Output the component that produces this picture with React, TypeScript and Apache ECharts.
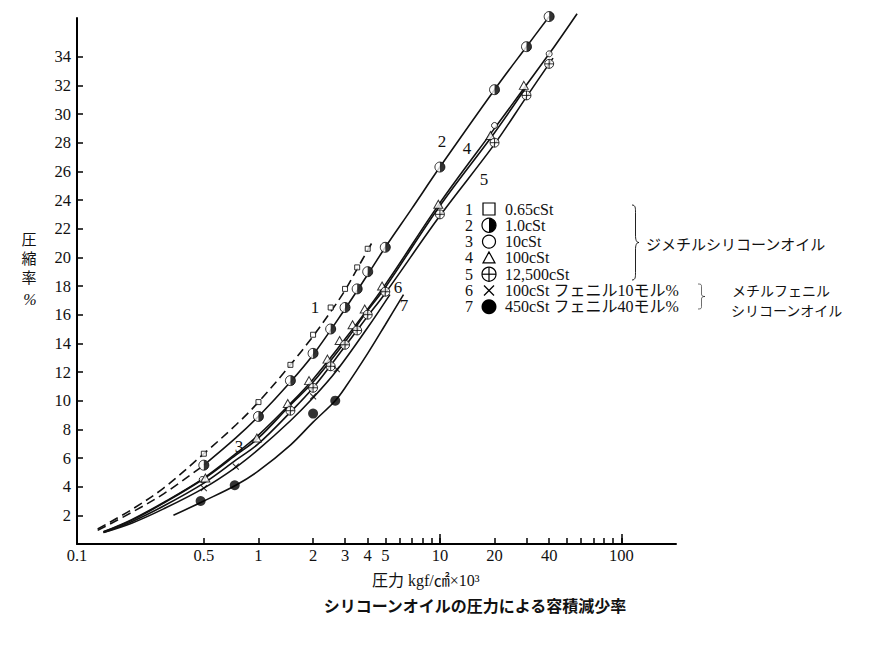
import React, { useEffect, useRef } from 'react';
import * as echarts from 'echarts';

const SERIF = '"Liberation Serif", "DejaVu Serif", "Noto Sans CJK JP", serif';
const CJK = '"Noto Sans CJK JP", sans-serif';

// ---- axes ----
const xMin = 0.1;
const xMax = 200;
const yMin = 0;
const yMax = 36.7;
const xTickValues = [0.5, 1, 2, 3, 4, 5, 6, 7, 8, 9, 10, 20, 30, 40, 50, 60, 70, 80, 90, 100];
const xMajorTickValues = [10, 100];
const xLabelValues = [0.1, 0.5, 1, 2, 3, 4, 5, 10, 20, 40, 100];
const yLabelValues = [2, 4, 6, 8, 10, 12, 14, 16, 18, 20, 22, 24, 26, 28, 30, 32, 34];

// ---- series names ----
const seriesNumbers = ['1', '2', '3', '4', '5', '6', '7'];
const seriesNames = [
  '0.65cSt',
  '1.0cSt',
  '10cSt',
  '100cSt',
  '12,500cSt',
  '100cSt フェニル10モル%',
  '450cSt フェニル40モル%',
];

// ---- fitted curves (x: kgf/cm2 x10^3, y: %) ----
const curve1X = [0.13, 0.2, 0.3, 0.5, 0.75, 1, 1.5, 2, 2.5, 3, 3.5, 4, 4.3];
const curve1Y = [1.05, 2.4, 3.9, 6.3, 8.3, 9.9, 12.5, 14.5, 16.2, 17.7, 19.2, 20.5, 21.2];
const curve2X = [0.13, 0.2, 0.3, 0.5, 0.75, 1, 1.5, 2, 3, 4, 5, 7, 10, 20, 30, 40];
const curve2Y = [0.95, 2.2, 3.5, 5.5, 7.4, 8.9, 11.3, 13.2, 16.4, 18.8, 20.7, 23.4, 26.3, 31.7, 34.7, 36.8];
const curve3X = [0.14, 0.2, 0.3, 0.5, 0.75, 1, 1.5, 2, 3, 5, 10, 20, 40, 57];
const curve3Y = [0.85, 1.7, 2.9, 4.6, 6.3, 7.6, 9.8, 11.5, 14.3, 18.1, 23.8, 29.0, 34.2, 37.0];
const curve4X = [0.14, 0.2, 0.3, 0.5, 0.75, 1, 1.5, 2, 3, 4, 5, 10, 20, 30];
const curve4Y = [0.85, 1.65, 2.85, 4.55, 6.2, 7.4, 9.7, 11.3, 14.1, 16.3, 17.9, 23.6, 28.7, 31.9];
const curve5X = [0.14, 0.2, 0.3, 0.5, 0.75, 1, 1.5, 2, 3, 4, 5, 10, 20, 30, 42];
const curve5Y = [0.8, 1.55, 2.65, 4.25, 5.85, 7.0, 9.2, 10.9, 13.8, 15.9, 17.5, 22.9, 27.9, 31.2, 33.9];
const curve6X = [0.14, 0.2, 0.3, 0.5, 0.75, 1, 1.5, 2, 2.7, 4, 5.3];
const curve6Y = [0.8, 1.45, 2.45, 3.9, 5.35, 6.6, 8.6, 10.2, 12.1, 15.1, 17.4];
const curve7X = [0.34, 0.5, 0.75, 1, 1.5, 2, 2.65, 3, 4, 5, 6.3];
const curve7Y = [2.0, 3.0, 4.1, 5.1, 6.9, 8.5, 10.0, 10.9, 13.3, 15.3, 17.4];

// ---- measured points ----
const pts1X = [0.5, 1, 1.5, 2, 2.5, 3, 3.5, 4];
const pts1Y = [6.3, 9.9, 12.5, 14.6, 16.5, 17.8, 19.3, 20.6];
const pts2X = [0.5, 1, 1.5, 2, 2.5, 3, 3.5, 4, 5, 10, 20, 30, 40];
const pts2Y = [5.5, 8.9, 11.4, 13.3, 15.0, 16.5, 17.8, 19.0, 20.7, 26.3, 31.7, 34.7, 36.8];
const pts3X = [0.49, 20, 40];
const pts3Y = [4.5, 29.2, 34.2];
const pts4X = [0.51, 0.98, 1.45, 1.9, 2.4, 2.8, 3.3, 3.85, 4.8, 9.8, 19, 29];
const pts4Y = [4.6, 7.4, 9.8, 11.4, 12.9, 14.2, 15.3, 16.4, 18.0, 23.7, 28.5, 32.0];
const pts5X = [1.5, 2, 2.5, 3, 3.5, 4, 5, 10, 20, 30, 40];
const pts5Y = [9.3, 10.9, 12.4, 13.9, 14.9, 16.0, 17.6, 23.0, 28.0, 31.3, 33.5];
const pts6X = [0.5, 0.75, 2, 2.7];
const pts6Y = [3.9, 5.4, 10.3, 12.2];
const pts7X = [0.48, 0.74, 2, 2.65];
const pts7Y = [3.0, 4.1, 9.1, 10.0];

// ---- brace shape ----
echarts.graphic.registerShape(
  'brace',
  echarts.graphic.extendPath(
    'M0,0 C5,0 5,4 5,10 L5,40 C5,46 6,50 10,50 C6,50 5,54 5,60 L5,90 C5,96 5,100 0,100',
    {}
  )
);

const zip = (xs: number[], ys: number[]) => xs.map((x, i) => [x, ys[i]]);

const lineSeries = (name: string, xs: number[], ys: number[], dashed: boolean) => ({
  type: 'line',
  name,
  data: zip(xs, ys),
  showSymbol: false,
  symbol: 'none',
  smooth: 0.35,
  clip: false,
  silent: true,
  z: 2,
  lineStyle: { color: '#111', width: 1.6, type: dashed ? [9, 5] : 'solid' },
});

const scatterSeries = (
  name: string,
  xs: number[],
  ys: number[],
  symbol: string,
  size: any,
  itemStyle: any,
  extra: any = {}
) => ({
  type: 'scatter',
  name,
  data: zip(xs, ys),
  symbol,
  symbolSize: size,
  itemStyle,
  clip: false,
  silent: true,
  z: 5,
  ...extra,
});

const OPEN = { color: '#fff', borderColor: '#000', borderWidth: 1 };
const CROSS_CIRCLE = 'path://M0,-10A10,10 0 1 1 0,10A10,10 0 1 1 0,-10Z M-10,0L10,0 M0,-10L0,10';
const HALF_DISC = 'path://M0,0 A10,10 0 0 1 0,20 Z';
const CROSS = 'path://M0,0L10,10M0,10L10,0';

const T = (text: string, x: number, y: number, size: number, extra: any = {}) => ({
  type: 'text',
  x,
  y,
  silent: true,
  style: {
    text,
    fill: '#111',
    fontSize: size,
    fontFamily: SERIF,
    align: 'left',
    textAlign: 'left',
    verticalAlign: 'middle',
    textVerticalAlign: 'middle',
    ...extra,
  },
});

function buildLegend() {
  const els: any[] = [];
  const y0 = 209;
  const dy = 16.3;
  const nx = 469;
  const mx = 489;
  const tx = 505;
  const stroke = { stroke: '#000', lineWidth: 1.2 };
  seriesNames.forEach((label, i) => {
    const cy = y0 + i * dy;
    els.push(T(seriesNumbers[i], nx, cy, 16, { align: 'center', textAlign: 'center', lineHeight: 15 }));
    els.push(T(label, tx, cy, 16, { lineHeight: 15 }));
    if (i === 0) {
      els.push({ type: 'rect', shape: { x: mx - 6, y: cy - 6, width: 12, height: 12 }, style: { fill: '#fff', ...stroke } });
    } else if (i === 1) {
      els.push({ type: 'circle', shape: { cx: mx, cy, r: 7 }, style: { fill: '#fff', ...stroke } });
      els.push({ type: 'sector', shape: { cx: mx, cy, r: 7, r0: 0, startAngle: -Math.PI / 2, endAngle: Math.PI / 2, clockwise: true }, style: { fill: '#000' } });
    } else if (i === 2) {
      els.push({ type: 'circle', shape: { cx: mx, cy, r: 6.5 }, style: { fill: '#fff', ...stroke } });
    } else if (i === 3) {
      els.push({ type: 'polygon', shape: { points: [[mx, cy - 6], [mx - 6, cy + 5], [mx + 6, cy + 5]] }, style: { fill: '#fff', ...stroke } });
    } else if (i === 4) {
      els.push({ type: 'circle', shape: { cx: mx, cy, r: 7 }, style: { fill: '#fff', ...stroke } });
      els.push({ type: 'line', shape: { x1: mx - 7, y1: cy, x2: mx + 7, y2: cy }, style: stroke });
      els.push({ type: 'line', shape: { x1: mx, y1: cy - 7, x2: mx, y2: cy + 7 }, style: stroke });
    } else if (i === 5) {
      els.push({ type: 'line', shape: { x1: mx - 5, y1: cy - 5, x2: mx + 5, y2: cy + 5 }, style: stroke });
      els.push({ type: 'line', shape: { x1: mx - 5, y1: cy + 5, x2: mx + 5, y2: cy - 5 }, style: stroke });
    } else {
      els.push({ type: 'circle', shape: { cx: mx, cy, r: 7.5 }, style: { fill: '#000' } });
    }
  });
  // braces and group names
  els.push({ type: 'brace', x: 632, y: 205, scaleX: 0.7, scaleY: 0.75, style: { fill: 'none', stroke: '#000', lineWidth: 1.2 } });
  els.push(T('ジメチルシリコーンオイル', 646, 243, 15, { fontFamily: CJK }));
  els.push({ type: 'brace', x: 698, y: 284, scaleX: 0.7, scaleY: 0.25, style: { fill: 'none', stroke: '#000', lineWidth: 1.2 } });
  els.push(T('メチルフェニル', 732, 290, 14, { fontFamily: CJK, lineHeight: 16 }));
  els.push(T('シリコーンオイル', 731, 310, 14, { fontFamily: CJK, lineHeight: 16 }));
  return els;
}

function buildOption() {
  const curve2Low = curve2X.map((x, i) => i).filter((i) => curve2X[i] <= 0.5);
  const curve2High = curve2X.map((x, i) => i).filter((i) => curve2X[i] >= 0.5);
  const series: any[] = [
    lineSeries(seriesNames[0], curve1X, curve1Y, true),
    lineSeries(seriesNames[1], curve2Low.map((i) => curve2X[i]), curve2Low.map((i) => curve2Y[i]), true),
    lineSeries(seriesNames[1], curve2High.map((i) => curve2X[i]), curve2High.map((i) => curve2Y[i]), false),
    lineSeries(seriesNames[2], curve3X, curve3Y, false),
    lineSeries(seriesNames[3], curve4X, curve4Y, false),
    lineSeries(seriesNames[4], curve5X, curve5Y, false),
    lineSeries(seriesNames[5], curve6X, curve6Y, false),
    lineSeries(seriesNames[6], curve7X, curve7Y, false),
    scatterSeries(seriesNames[0], pts1X, pts1Y, 'rect', 5, OPEN),
    scatterSeries(seriesNames[1], pts2X, pts2Y, 'circle', 10, OPEN),
    scatterSeries(seriesNames[1], pts2X, pts2Y, HALF_DISC, [5, 10], { color: '#000' }, { symbolOffset: [2.5, 0], z: 6 }),
    scatterSeries(seriesNames[2], pts3X, pts3Y, 'circle', 6, OPEN),
    scatterSeries(seriesNames[3], pts4X, pts4Y, 'triangle', [9, 8], OPEN),
    scatterSeries(seriesNames[4], pts5X, pts5Y, CROSS_CIRCLE, 9, OPEN),
    scatterSeries(seriesNames[5], pts6X, pts6Y, CROSS, 6, { color: 'none', borderColor: '#000', borderWidth: 1.1 }),
    scatterSeries(seriesNames[6], pts7X, pts7Y, 'circle', 10, { color: '#000' }),
  ];

  const graphic: any[] = [
    // curve labels
    T('1', 315, 307, 17, { align: 'center', textAlign: 'center' }),
    T('2', 442, 141, 17, { align: 'center', textAlign: 'center' }),
    T('3', 239, 446, 17, { align: 'center', textAlign: 'center' }),
    T('4', 467, 148, 17, { align: 'center', textAlign: 'center' }),
    T('5', 484, 179, 17, { align: 'center', textAlign: 'center' }),
    T('6', 398, 287, 17, { align: 'center', textAlign: 'center' }),
    T('7', 404, 305, 17, { align: 'center', textAlign: 'center' }),
    // y-axis name (vertical)
    T('圧\n縮\n率', 29, 257, 15, { fontFamily: CJK, align: 'center', textAlign: 'center', lineHeight: 19 }),
    T('%', 30, 299, 16, { align: 'center', textAlign: 'center', fontStyle: 'italic' }),
    // x-axis name
    T('圧力 kgf/㎠×10³', 372, 580, 16, { fontFamily: SERIF }),
    // caption
    T('シリコーンオイルの圧力による容積減少率', 475, 605, 16, {
      fontFamily: CJK,
      fontWeight: 'bold',
      align: 'center',
      textAlign: 'center',
    }),
    ...buildLegend(),
  ];

  return {
    animation: false,
    backgroundColor: '#fff',
    textStyle: { fontFamily: SERIF, color: '#111' },
    grid: { left: 77, right: 215, top: 18, bottom: 103, containLabel: false },
    xAxis: [
      {
        type: 'log',
        logBase: 10,
        min: xMin,
        max: xMax,
        position: 'bottom',
        axisLine: { show: true, lineStyle: { color: '#000', width: 2 } },
        axisTick: { show: true, inside: true, length: 6, customValues: xTickValues, lineStyle: { color: '#000', width: 1.5 } },
        minorTick: { show: false },
        axisLabel: {
          show: true,
          customValues: xLabelValues,
          color: '#111',
          fontFamily: SERIF,
          fontSize: 16.5,
          margin: 3,
          formatter: (v: number) => String(parseFloat(Number(v).toPrecision(6))),
        },
        splitLine: { show: false },
      },
      {
        type: 'log',
        logBase: 10,
        min: xMin,
        max: xMax,
        position: 'bottom',
        axisLine: { show: false },
        axisTick: { show: true, inside: true, length: 10, customValues: xMajorTickValues, lineStyle: { color: '#000', width: 1.5 } },
        axisLabel: { show: false },
        splitLine: { show: false },
      },
    ],
    yAxis: {
      type: 'value',
      min: yMin,
      max: yMax,
      axisLine: { show: true, lineStyle: { color: '#000', width: 2 } },
      axisTick: { show: true, inside: true, length: 6, customValues: yLabelValues, lineStyle: { color: '#000', width: 1.5 } },
      axisLabel: { show: true, customValues: yLabelValues, color: '#111', fontFamily: SERIF, fontSize: 16.5, margin: 6 },
      splitLine: { show: false },
    },
    series,
    graphic,
  };
}

export default function App() {
  const ref = useRef<HTMLDivElement>(null);
  useEffect(() => {
    document.body.style.margin = '0';
    if (!ref.current) return;
    const chart = echarts.init(ref.current, undefined, { renderer: 'svg' });
    chart.setOption(buildOption() as any);
    return () => chart.dispose();
  }, []);
  return <div ref={ref} style={{ width: 891, height: 647 }} />;
}
